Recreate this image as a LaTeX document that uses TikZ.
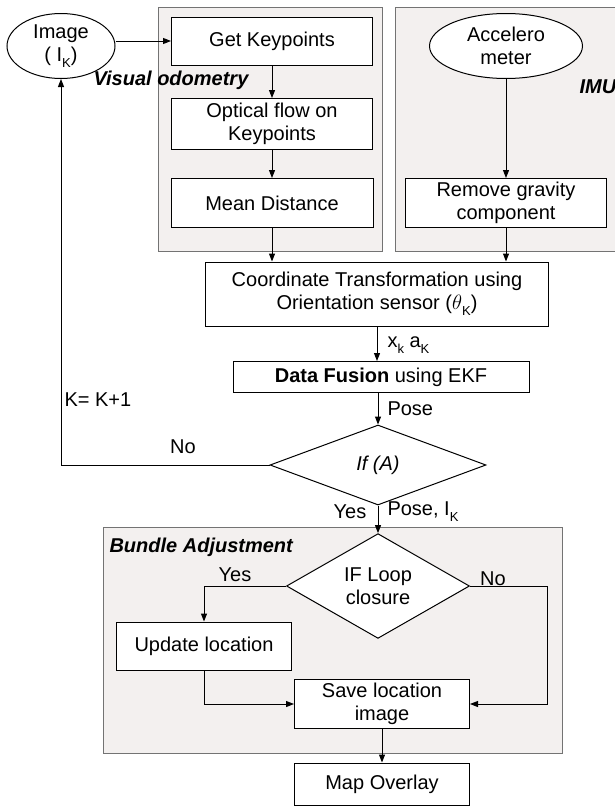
\documentclass[tikz,border=0pt]{standalone}
\usepackage{fontspec}
\setmainfont{Liberation Sans}
\usetikzlibrary{shapes.geometric,arrows.meta}
\definecolor{panelgray}{RGB}{243,240,239}
\newcommand\lowsub[1]{\raisebox{-0.55ex}{\fontsize{13}{13}\selectfont #1}}

\begin{document}
\begin{tikzpicture}[x=1pt,y=-1pt,font=\fontsize{20}{23}\selectfont, box/.style={draw,line width=1pt,fill=white,align=center,inner sep=0pt}, oval/.style={draw,ellipse,line width=1pt,fill=white,align=center,inner sep=0pt}, test/.style={draw,diamond,line width=1pt,fill=white,align=center,inner sep=0pt}, flow/.style={line width=1pt,-{Triangle[length=8pt,width=6pt]}}, panel/.style={draw=gray!90!black,fill=panelgray,line width=0.8pt}, paneltitle/.style={font=\fontsize{20}{23}\selectfont\bfseries\itshape}]
\useasboundingbox (0,0) rectangle (615,806);

% panels
\draw[panel] (158,7) rectangle (382,251);
\draw[panel] (395,7) rectangle (625,251);
\draw[panel] (103,527) rectangle (562,753);

\node[oval,minimum width=108,minimum height=65] (img) at (61,46) {Image\\( I\lowsub{K})};
\node[box,minimum width=201,minimum height=48] (kp) at (272,41) {Get Keypoints};
\node[box,minimum width=201,minimum height=51] (of) at (272,124) {Optical flow on\\Keypoints};
\node[box,minimum width=202,minimum height=49] (md) at (272,203) {Mean Distance};
\node[paneltitle,anchor=west] (vo) at (90,80) {Visual odometry};

\node[oval,minimum width=153,minimum height=65] (acc) at (506,46) {Accelero\\meter};
\node[box,minimum width=201,minimum height=49] (rg) at (506,203) {Remove gravity\\component};
\node[paneltitle,anchor=west] (imu) at (576,87) {IMU};

\node[box,minimum width=343,minimum height=64] (ct) at (377,294) {Coordinate Transformation using\\Orientation sensor ($\theta$\lowsub{K})};
\node[box,minimum width=296,minimum height=31] (df) at (381,377) {\textbf{Data Fusion} using EKF};
\node[test,minimum width=216,minimum height=80] (ifa) at (378,465) {\itshape If (A)};

\node[paneltitle,anchor=west] (ba) at (106,547) {Bundle Adjustment};
\node[test,minimum width=183,minimum height=79] (lc) at (378,586) {IF Loop\\closure};
\node[box,minimum width=175,minimum height=48] (ul) at (204,646) {Update location};
\node[box,minimum width=175,minimum height=49] (sl) at (382,704) {Save location\\image};
\node[box,minimum width=175,minimum height=42] (mo) at (382,784) {Map Overlay};

% labels
\node[anchor=west] (xa) at (384,345) {x\lowsub{k} a\lowsub{K}};
\node[anchor=west] (pose) at (384,409) {Pose};
\node[anchor=west] (kinc) at (61,400) {K= K+1};
\node (no1) at (183,447) {No};
\node (yes1) at (350,512) {Yes};
\node[anchor=west] (posei) at (384,512) {Pose, I\lowsub{K}};
\node (yes2) at (235,575) {Yes};
\node (no2) at (493,579) {No};

% connectors
\draw[flow] (img.east |- kp.west) -- (kp.west);
\draw[flow] (kp) -- (of);
\draw[flow] (of) -- (md);
\draw[flow] (acc) -- (rg);
\draw[flow] (md) -- (md |- ct.north);
\draw[flow] (rg) -- (rg |- ct.north);
\draw[flow] (ct.south) -- (ct.south |- df.north);
\draw[flow] (df.south -| ifa) -- (ifa);
\draw[flow] (ifa.west) -| (img.south);
\draw[flow] (ifa.south) -- (lc.north);
\draw[flow] (lc.west) -| (ul.north);
\draw[flow] (lc.east) -- ++(77,0) |- (sl.east);
\draw[flow] (ul.south) |- (sl.west);
\draw[flow] (sl) -- (mo);
\end{tikzpicture}
\end{document}
